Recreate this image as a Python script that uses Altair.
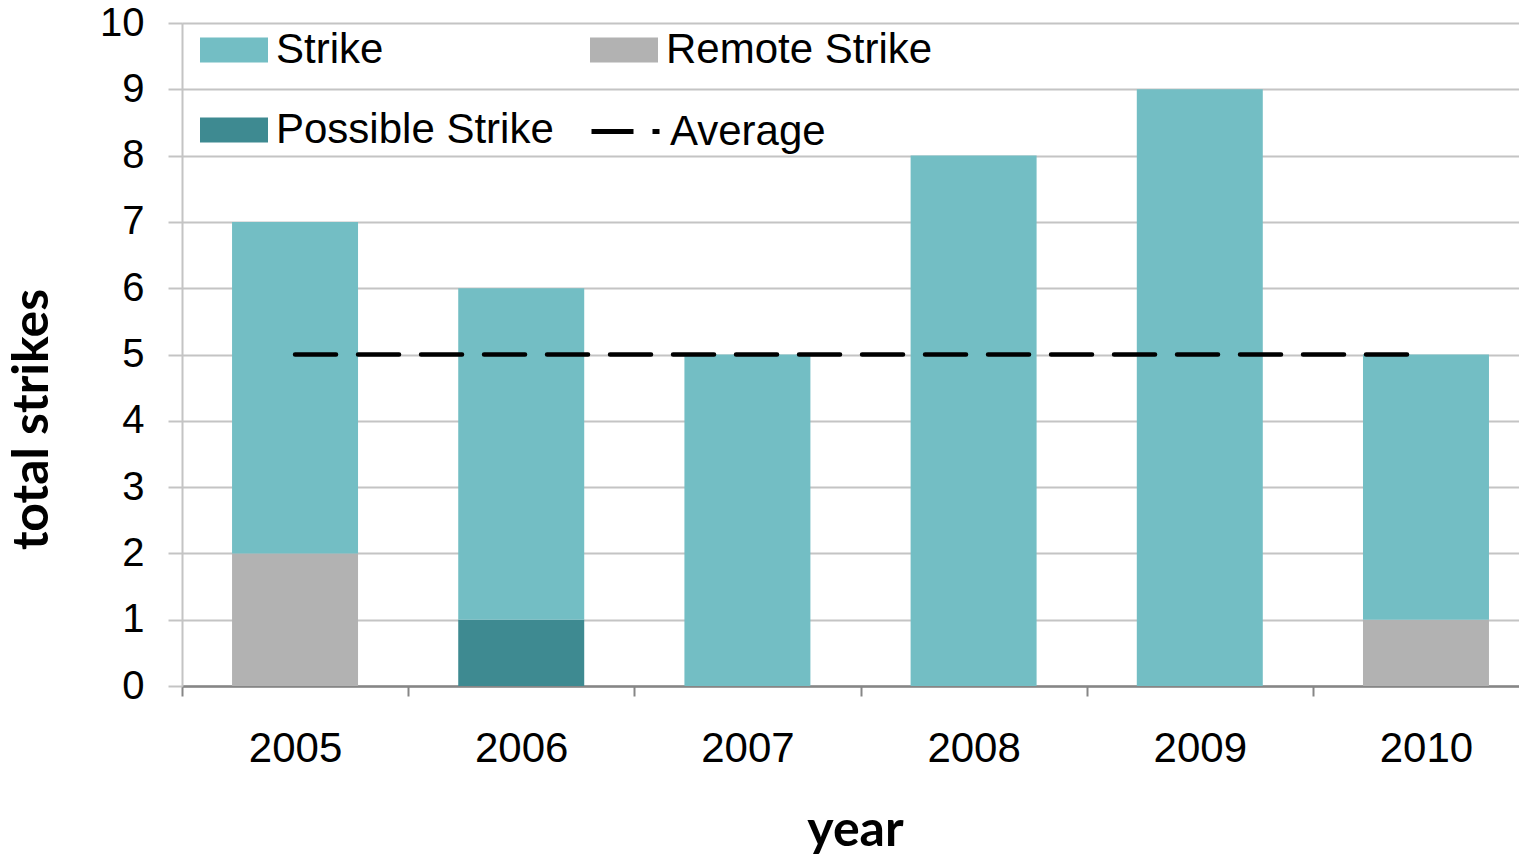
import altair as alt
import pandas as pd

years = ["2005", "2006", "2007", "2008", "2009", "2010"]
strike = [5, 5, 5, 8, 9, 4]
remote_strike = [2, 0, 0, 0, 0, 1]
possible_strike = [0, 1, 0, 0, 0, 0]
average = [5, 5, 5, 5, 5, 5]

series_names = ["Strike", "Remote Strike", "Possible Strike"]
series_colors = ["#73BEC4", "#B2B2B2", "#3E8A91"]
y_ticks = [0, 1, 2, 3, 4, 5, 6, 7, 8, 9, 10]

rows = []
for i, yr in enumerate(years):
    rows.append({"year": yr, "type": "Remote Strike", "value": remote_strike[i], "ord": 0})
    rows.append({"year": yr, "type": "Possible Strike", "value": possible_strike[i], "ord": 1})
    rows.append({"year": yr, "type": "Strike", "value": strike[i], "ord": 2})
bars_df = pd.DataFrame(rows)
avg_df = pd.DataFrame({"year": years, "avg": average, "series": ["Average"] * len(years)})

W = 1337
H = 663
P_INNER = 0.443
P_OUTER = 0.177
step = W / (6 - P_INNER + 2 * P_OUTER)

LABEL_FONT = "Liberation Sans"
TITLE_FONT = "Lato"

x_enc = alt.X(
    "year:N",
    sort=years,
    scale=alt.Scale(paddingInner=P_INNER, paddingOuter=P_OUTER, align=0.625),
    axis=alt.Axis(
        title="year",
        labelAngle=0,
        labelFont=LABEL_FONT,
        labelFontSize=42,
        labelColor="black",
        labelPadding=32,
        tickSize=10,
        tickColor="#868686",
        tickWidth=2,
        domainColor="#868686",
        domainWidth=2.5,
        bandPosition=0.5,
        tickOffset=-step / 2,
        labelOffset=step / 2,
        grid=False,
        titleFont=TITLE_FONT,
        titleFontWeight="bold",
        titleFontSize=50,
        titleColor="black",
        titleX=673,
        titleY=159,
        titleBaseline="alphabetic",
    ),
)

bars = alt.Chart(bars_df).mark_bar(strokeWidth=0).encode(
    x=x_enc,
    y=alt.Y(
        "value:Q",
        stack="zero",
        scale=alt.Scale(domain=[0, 10], nice=False),
        axis=alt.Axis(
            title="total strikes",
            values=y_ticks,
            format="d",
            labelFont=LABEL_FONT,
            labelFontSize=40,
            labelColor="black",
            labelPadding=24,
            tickSize=14,
            tickColor="#C4C4C4",
            tickWidth=2,
            domainColor="#C4C4C4",
            domainWidth=2,
            gridColor="#C4C4C4",
            gridWidth=2,
            titleFont=TITLE_FONT,
            titleFontWeight="bold",
            titleFontSize=50,
            titleColor="black",
            titleX=-135,
            titleY=396,
            titleBaseline="alphabetic",
        ),
    ),
    fill=alt.Fill(
        "type:N",
        scale=alt.Scale(domain=series_names, range=series_colors),
        legend=alt.Legend(
            title=None,
            orient="none",
            direction="horizontal",
            legendX=18,
            legendY=-7,
            columns=2,
            columnPadding=36,
            rowPadding=25,
            padding=0,
            symbolType="M-1,-0.368H1V0.368H-1Z",
            symbolSize=4624,
            symbolStrokeWidth=0,
            symbolOpacity=1,
            labelFont=LABEL_FONT,
            labelFontSize=42,
            labelColor="black",
            labelOffset=8,
            labelLimit=600,
        ),
    ),
    order=alt.Order("ord:Q"),
)

avg_line = alt.Chart(avg_df).mark_line(
    strokeWidth=4.5, strokeDash=[41, 22], strokeCap="round"
).encode(
    x=alt.X("year:N", sort=years),
    y=alt.Y("avg:Q"),
    stroke=alt.Stroke(
        "series:N",
        scale=alt.Scale(domain=["Average"], range=["black"]),
        legend=alt.Legend(
            title=None,
            orient="none",
            legendX=407,
            legendY=72,
            padding=0,
            symbolType="stroke",
            symbolSize=4624,
            symbolStrokeWidth=5,
            symbolDash=[42, 19],
            labelFont=LABEL_FONT,
            labelFontSize=42,
            labelColor="black",
            labelOffset=8,
            labelLimit=600,
        ),
    ),
)

chart = (
    alt.layer(bars, avg_line)
    .resolve_scale(x="shared", y="shared")
    .properties(
        width=W,
        height=H,
        autosize=alt.AutoSizeParams(type="none"),
        padding={"left": 174, "top": 15, "right": 0, "bottom": 172},
    )
    .configure_view(stroke=None)
    .configure(background="white")
)

chart.save("out.html", embed_options={"renderer": "svg", "actions": False})
